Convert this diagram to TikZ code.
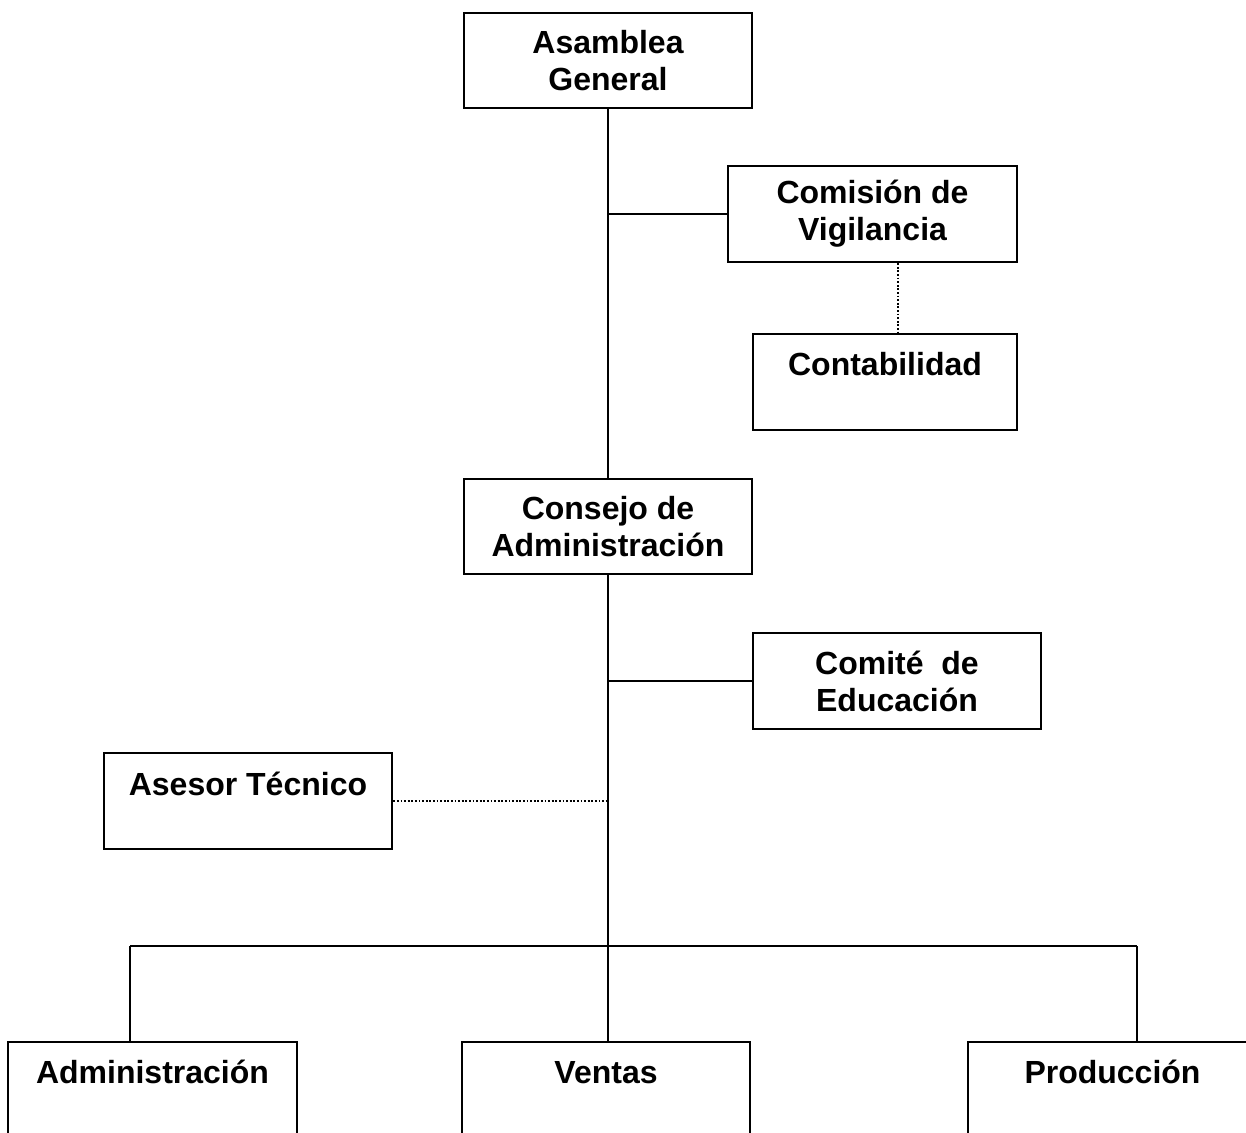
\documentclass[tikz,border=0pt]{standalone}
\usepackage{fontspec}
\setmainfont{Liberation Sans}
\begin{document}
\begin{tikzpicture}[x=0.5pt,y=-0.5pt,
  box/.style={draw, line width=1.3pt, inner sep=0pt, align=center,
    font=\fontsize{16}{18.5}\selectfont\bfseries},
  topbox/.style={box, text height=21pt, text depth=27pt},
  lowbox/.style={box, text height=20.5pt, text depth=33.5pt},
  conn/.style={line width=1pt},
  bus/.style={line width=1.3pt},
  dots/.style={line width=0.9pt, dash pattern=on 0.9pt off 0.9pt}]
\clip (0,0) rectangle (1246,1133);
\useasboundingbox (0,0) rectangle (1246,1133);

\node[box, minimum width=144pt, minimum height=47.5pt] (ag) at (608,60.5) {Asamblea\\General};
\node[box, minimum width=144.5pt, minimum height=48pt] (vig) at (872.5,214) {Comisión de\\Vigilancia};
\node[topbox, minimum width=132pt] (cont) at (885,382) {Contabilidad};
\node[box, minimum width=144pt, minimum height=47.5pt] (cda) at (608,526.5) {Consejo de\\Administración};
\node[box, minimum width=144pt, minimum height=48pt] (edu) at (897,681) {Comité\ \ de\\Educación};
\node[topbox, minimum width=144pt] (ase) at (248,801) {Asesor Técnico};
\node[lowbox, minimum width=144.5pt] (adm) at (152.5,1096) {Administración};
\node[lowbox, minimum width=144pt] (ven) at (606,1096) {Ventas};
\node[lowbox, minimum width=144.5pt] (pro) at (1112.5,1096) {Producción};

\coordinate (dv) at (898,262);
\coordinate (busL) at (130,946);
\coordinate (busR) at (1137,946);

\draw[conn] (ag.south) -- (cda.north);
\draw[conn] (ag.south |- vig.west) -- (vig.west);
\draw[dots] (vig.south -| dv) -- (cont.north -| dv);
\draw[conn] (cda.south) -- (cda.south |- ven.north);
\draw[conn] (cda.south |- edu.west) -- (edu.west);
\draw[dots] (ase.east) -- (ase.east -| cda.south);
\draw[bus] (busL) -- (busR);
\draw[conn] (busL) -- (busL |- adm.north);
\draw[conn] (busR) -- (busR |- pro.north);
\end{tikzpicture}
\end{document}
